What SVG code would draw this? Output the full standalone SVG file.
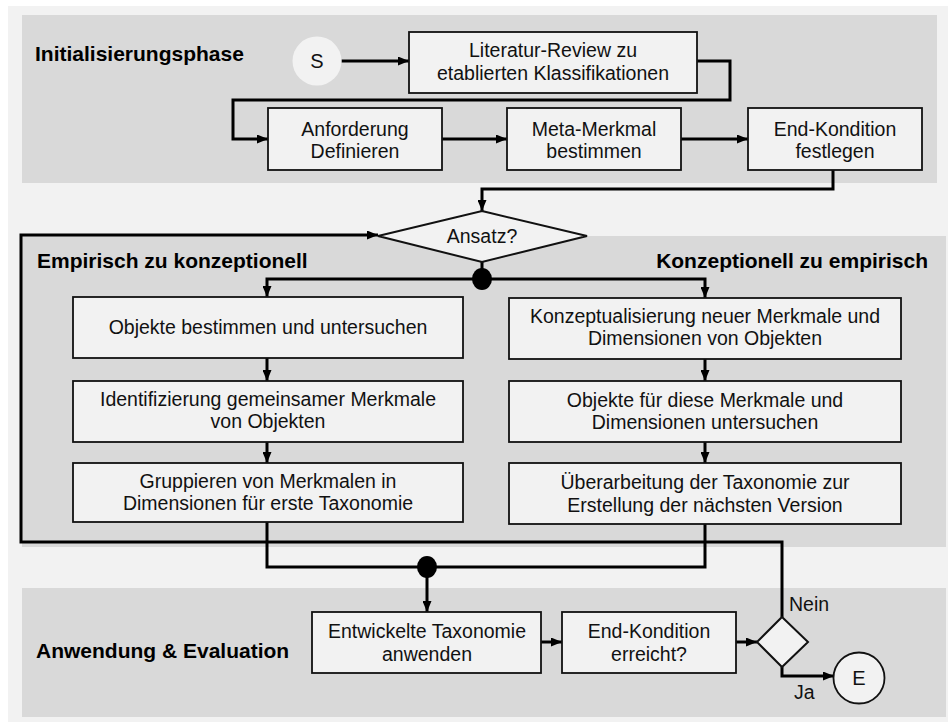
<svg xmlns="http://www.w3.org/2000/svg" width="948" height="722" viewBox="0 0 948 722">
  <defs>
    <marker id="arr" markerUnits="userSpaceOnUse" markerWidth="11" markerHeight="9" refX="11" refY="4.5" orient="auto">
      <path d="M0,0 L11,4.5 L0,9 z" fill="#000"/>
    </marker>
    <style>
      .band { fill: #d9d9d9; }
      .box { fill: #f2f2f2; stroke: #111; stroke-width: 1.8; }
      .t { font-family: "Liberation Sans", Arial, sans-serif; font-size: 19.5px; fill: #111; text-anchor: middle; }
      .lbl { font-family: "Liberation Sans", Arial, sans-serif; font-size: 19.5px; fill: #111; }
      .title { font-family: "Liberation Sans", Arial, sans-serif; font-size: 21px; font-weight: bold; fill: #000; }
      .c { fill: none; stroke: #000; stroke-width: 3; }
      .ca { fill: none; stroke: #000; stroke-width: 3; marker-end: url(#arr); }
      .dot { fill: #000; }
    </style>
  </defs>

  <rect x="0" y="0" width="948" height="722" fill="#ffffff"/>
  <rect x="8" y="6" width="940" height="716" fill="#f2f2f2"/>

  <g id="bands">
    <rect class="band" x="22" y="15" width="915" height="168"/>
    <rect class="band" x="22" y="236" width="924" height="311"/>
    <rect class="band" x="22" y="588" width="924" height="129"/>
  </g>

  <g id="titles">
    <text class="title" x="35" y="61">Initialisierungsphase</text>
    <text class="title" x="37" y="268">Empirisch zu konzeptionell</text>
    <text class="title" x="928" y="268" text-anchor="end">Konzeptionell zu empirisch</text>
    <text class="title" x="36" y="658">Anwendung &amp; Evaluation</text>
  </g>

  <g id="connectors">
    <path class="ca" d="M341.5 61 H409"/>
    <path class="ca" d="M697 61 H730 V100 H233 V139 H268"/>
    <path class="ca" d="M442 139 H507"/>
    <path class="ca" d="M681 139 H748"/>
    <path class="ca" d="M833 170 V189 H482 V211"/>
    <path class="c" d="M482 262 V279"/>
    <path class="ca" d="M482 279 H267 V297"/>
    <path class="ca" d="M482 279 H705 V298"/>
    <path class="ca" d="M267 358 V381"/>
    <path class="ca" d="M267 442 V463"/>
    <path class="ca" d="M705 359 V381"/>
    <path class="ca" d="M705 442 V463"/>
    <path class="ca" d="M782 617 V542 H21 V235 H378"/>
    <path class="c" d="M267 522 V567 H705 V524"/>
    <path class="ca" d="M427 567 V612"/>
    <path class="ca" d="M541 642 H562"/>
    <path class="ca" d="M736 642 H757"/>
    <path class="ca" d="M782 667 V676 H834"/>
    <ellipse class="dot" cx="482" cy="279" rx="10" ry="11"/>
    <ellipse class="dot" cx="427" cy="567" rx="10" ry="11"/>
    <text class="lbl" x="789" y="611">Nein</text>
    <text class="lbl" x="794" y="699">Ja</text>
  </g>

  <g id="start">
    <circle cx="317" cy="61" r="24.5" fill="#f2f2f2"/>
    <text class="t" x="317" y="68" style="font-size:20px">S</text>
  </g>

  <g id="literatur">
    <rect class="box" x="409" y="32" width="288" height="61"/>
    <text class="t" x="553" y="57">Literatur-Review zu</text>
    <text class="t" x="553" y="79.5">etablierten Klassifikationen</text>
  </g>

  <g id="anforderung">
    <rect class="box" x="268" y="108" width="174" height="62"/>
    <text class="t" x="355" y="135.5">Anforderung</text>
    <text class="t" x="355" y="158">Definieren</text>
  </g>

  <g id="metamerkmal">
    <rect class="box" x="507" y="108" width="174" height="62"/>
    <text class="t" x="594" y="135.5">Meta-Merkmal</text>
    <text class="t" x="594" y="158">bestimmen</text>
  </g>

  <g id="endkondition-festlegen">
    <rect class="box" x="748" y="108" width="174" height="62"/>
    <text class="t" x="835" y="135.5">End-Kondition</text>
    <text class="t" x="835" y="158">festlegen</text>
  </g>

  <g id="ansatz">
    <polygon points="482,211 587,236 482,262 378,236" fill="#f2f2f2" stroke="#111" stroke-width="2"/>
    <text class="t" x="482" y="243">Ansatz?</text>
  </g>

  <g id="objekte-bestimmen">
    <rect class="box" x="73" y="297" width="390" height="61"/>
    <text class="t" x="268" y="334">Objekte bestimmen und untersuchen</text>
  </g>

  <g id="identifizierung">
    <rect class="box" x="73" y="381" width="390" height="61"/>
    <text class="t" x="268" y="405.5">Identifizierung gemeinsamer Merkmale</text>
    <text class="t" x="268" y="428">von Objekten</text>
  </g>

  <g id="gruppieren">
    <rect class="box" x="73" y="463" width="390" height="59"/>
    <text class="t" x="268" y="487.5">Gruppieren von Merkmalen in</text>
    <text class="t" x="268" y="510">Dimensionen für erste Taxonomie</text>
  </g>

  <g id="konzeptualisierung">
    <rect class="box" x="509" y="298" width="392" height="61"/>
    <text class="t" x="705" y="322.5">Konzeptualisierung neuer Merkmale und</text>
    <text class="t" x="705" y="345">Dimensionen von Objekten</text>
  </g>

  <g id="objekte-untersuchen">
    <rect class="box" x="509" y="381" width="392" height="61"/>
    <text class="t" x="705" y="406.5">Objekte für diese Merkmale und</text>
    <text class="t" x="705" y="429">Dimensionen untersuchen</text>
  </g>

  <g id="ueberarbeitung">
    <rect class="box" x="509" y="463" width="392" height="61"/>
    <text class="t" x="705" y="489">Überarbeitung der Taxonomie zur</text>
    <text class="t" x="705" y="511.5">Erstellung der nächsten Version</text>
  </g>

  <g id="anwenden">
    <rect class="box" x="312" y="612" width="229" height="61"/>
    <text class="t" x="427" y="638">Entwickelte Taxonomie</text>
    <text class="t" x="427" y="660.5">anwenden</text>
  </g>

  <g id="endkondition-erreicht">
    <rect class="box" x="562" y="612" width="174" height="61"/>
    <text class="t" x="649" y="638">End-Kondition</text>
    <text class="t" x="649" y="660.5">erreicht?</text>
  </g>

  <g id="decision">
    <polygon points="782,617 808,642 782,667 757,642" fill="#f2f2f2" stroke="#111" stroke-width="2"/>
  </g>

  <g id="end">
    <circle cx="859" cy="678" r="25.5" fill="#f2f2f2" stroke="#111" stroke-width="1.8"/>
    <text class="t" x="859" y="685" style="font-size:20px">E</text>
  </g>
</svg>
